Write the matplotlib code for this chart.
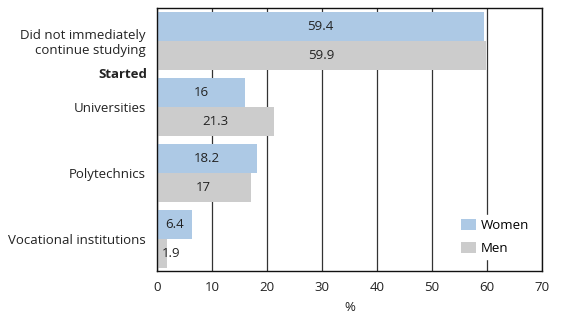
import matplotlib.pyplot as plt
import numpy as np

plt.rcParams['font.family'] = ['Open Sans', 'DejaVu Sans']

categories = ["Did not immediately\ncontinue studying", "Universities",
              "Polytechnics", "Vocational institutions"]
women = [59.4, 16, 18.2, 6.4]
men = [59.9, 21.3, 17, 1.9]
x_ticks = [0, 10, 20, 30, 40, 50, 60, 70]

FS = 9.5


def label_bars(ax, bars, values):
    """Writes the value inside each bar"""
    for bar, v in zip(bars, values):
        y = bar.get_y() + bar.get_height() / 2
        if v < 5:
            ax.text(0.9, y, f"{v:g}", ha='left', va='center', fontsize=FS,
                    color='#222222')
        else:
            ax.text(v / 2, y, f"{v:g}", ha='center', va='center',
                    fontsize=FS, color='#222222')


def main():
    fig = plt.figure(figsize=(5.69, 3.19), dpi=100)
    ax = fig.add_axes([0.276, 0.1505, 0.6765, 0.8245])

    y = np.arange(len(categories))
    h = 0.44
    wb = ax.barh(y - h / 2, women, height=h, color='#adc9e5',
                 label='Women', zorder=2)
    mb = ax.barh(y + h / 2, men, height=h, color='#cccccc',
                 label='Men', zorder=2)
    label_bars(ax, wb, women)
    label_bars(ax, mb, men)

    ax.set_xlim(0, 70)
    ax.set_ylim(3.485, -0.5)
    ax.set_xticks(x_ticks)
    ax.set_yticks(y)
    ax.set_yticklabels(categories, fontsize=FS, color='#222222')
    ax.tick_params(axis='both', length=0, labelsize=FS, colors='#222222')
    ax.tick_params(axis='x', pad=7)
    ax.tick_params(axis='y', pad=8)
    ax.grid(axis='x', color='#333333', linewidth=0.9, zorder=1)
    ax.set_axisbelow(True)
    for s in ax.spines.values():
        s.set_color('#111111')
        s.set_linewidth(1)
    ax.set_xlabel('%', fontsize=FS, color='#222222', labelpad=5)

    ax.text(-0.026, 0.515, 'Started', transform=ax.get_yaxis_transform(),
            ha='right', va='center', fontsize=FS, fontweight='bold',
            color='#222222')

    leg = ax.legend(loc='lower right', bbox_to_anchor=(0.995, 0.02),
                    frameon=True, fontsize=FS, handlelength=1.1,
                    handleheight=0.9, borderpad=0.3, labelspacing=0.75,
                    handletextpad=0.4, fancybox=False)
    leg.get_frame().set_edgecolor('white')
    leg.get_frame().set_facecolor('white')
    leg.get_frame().set_alpha(1)

    fig.savefig('out.png', dpi=100)


if __name__ == "__main__":
    main()
